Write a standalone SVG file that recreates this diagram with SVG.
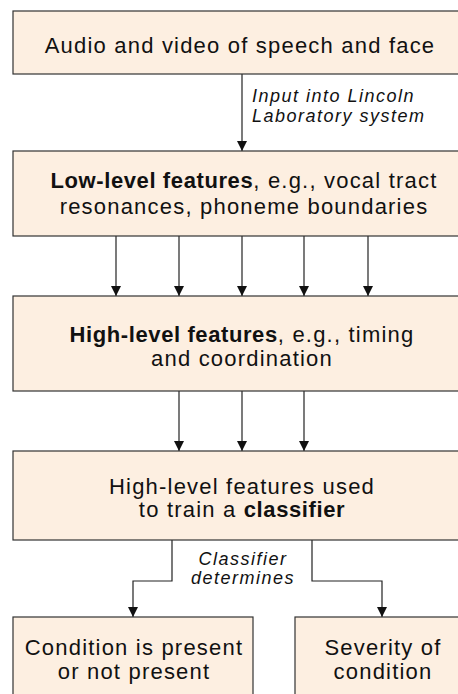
<svg xmlns="http://www.w3.org/2000/svg" width="458" height="694" viewBox="0 0 458 694">
<defs>
<marker id="ah" markerWidth="10" markerHeight="10" refX="10" refY="5" orient="auto" markerUnits="userSpaceOnUse" viewBox="0 0 10 10">
<path d="M0,0 L10,5 L0,10 z" fill="#111"/>
</marker>
</defs>
<style>
.box{fill:#fdefe1;stroke:#333;stroke-width:1.2}
.t{font-family:"Liberation Sans",Arial,sans-serif;font-size:22px;letter-spacing:1.2px;fill:#111;text-anchor:middle}
.b{font-weight:bold;letter-spacing:0.6px}
.lab{font-family:"Liberation Sans",Arial,sans-serif;font-size:18px;letter-spacing:1.5px;font-style:italic;fill:#111}
.c{fill:none;stroke:#222;stroke-width:1.2}
.a{marker-end:url(#ah)}
</style>
<rect width="458" height="694" fill="#fff"/>
<g id="connectors">
<line class="c a" x1="242" y1="74" x2="242" y2="151"/>
<line class="c a" x1="116" y1="236" x2="116" y2="296"/>
<line class="c a" x1="179" y1="236" x2="179" y2="296"/>
<line class="c a" x1="242" y1="236" x2="242" y2="296"/>
<line class="c a" x1="304" y1="236" x2="304" y2="296"/>
<line class="c a" x1="368" y1="236" x2="368" y2="296"/>
<line class="c a" x1="179" y1="391" x2="179" y2="451"/>
<line class="c a" x1="242" y1="391" x2="242" y2="451"/>
<line class="c a" x1="304" y1="391" x2="304" y2="451"/>
<polyline class="c a" points="172,540 172,581 133,581 133,617"/>
<polyline class="c a" points="312,540 312,581 382,581 382,617"/>
<text class="lab" x="252" y="102">Input into Lincoln</text>
<text class="lab" x="252" y="122">Laboratory system</text>
<text class="lab" x="243" y="565" text-anchor="middle">Classifier</text>
<text class="lab" x="243" y="584" text-anchor="middle">determines</text>
</g>
<g id="n1">
<rect class="box" x="13" y="11" width="460" height="63"/>
<text class="t" x="240" y="53">Audio and video of speech and face</text>
</g>
<g id="n2">
<rect class="box" x="13" y="151" width="460" height="85"/>
<text class="t" x="244" y="188"><tspan class="b">Low-level features</tspan>, e.g., vocal tract</text>
<text class="t" x="244" y="214">resonances, phoneme boundaries</text>
</g>
<g id="n3">
<rect class="box" x="13" y="296" width="460" height="95"/>
<text class="t" x="242" y="342"><tspan class="b">High-level features</tspan>, e.g., timing</text>
<text class="t" x="242" y="366">and coordination</text>
</g>
<g id="n4">
<rect class="box" x="13" y="451" width="460" height="89"/>
<text class="t" x="242" y="494">High-level features used</text>
<text class="t" x="242" y="517">to train a <tspan class="b">classifier</tspan></text>
</g>
<g id="n5">
<rect class="box" x="13" y="617" width="240" height="90"/>
<text class="t" x="134" y="655">Condition is present</text>
<text class="t" x="134" y="679">or not present</text>
</g>
<g id="n6">
<rect class="box" x="295" y="617" width="180" height="90"/>
<text class="t" x="383" y="655">Severity of</text>
<text class="t" x="383" y="679">condition</text>
</g>
</svg>
